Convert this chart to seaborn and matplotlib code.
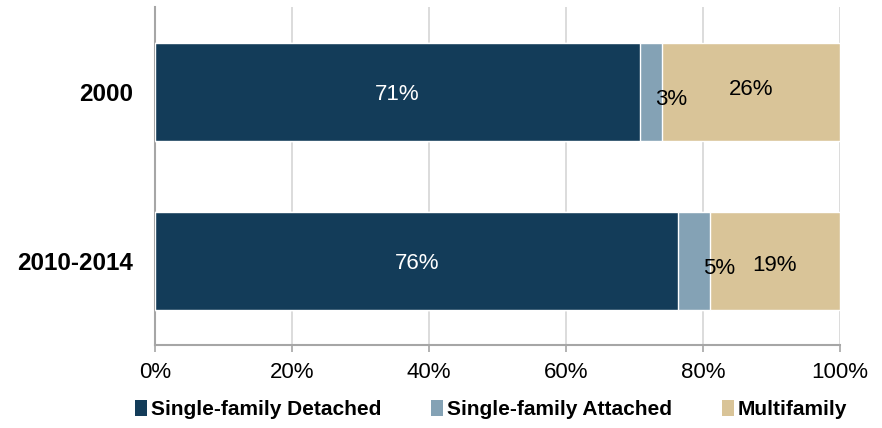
import numpy as np
import pandas as pd
import matplotlib
matplotlib.use('Agg')
import matplotlib.pyplot as plt
from matplotlib.patches import Patch
import seaborn as sns

# data (share of units, %)
periods = ['2000', '2010-2014']
detached = [70.8, 76.4]
attached = [3.2, 4.6]
multifamily = [26.0, 19.0]
series_names = ['Single-family Detached', 'Single-family Attached', 'Multifamily']
colors = ['#133C59', '#84A2B5', '#D9C498']
xticks = [0, 20, 40, 60, 80, 100]

sns.set_style('white')
plt.rcParams['font.family'] = ['Liberation Sans', 'DejaVu Sans']
plt.rcParams['text.color'] = 'black'

df = pd.DataFrame({'period': periods, 'detached': detached,
                   'attached': attached, 'multifamily': multifamily})
df['c1'] = df['detached']
df['c2'] = df['detached'] + df['attached']
df['c3'] = df['c2'] + df['multifamily']

fig = plt.figure(figsize=(8.82, 4.28), dpi=100)
ax = fig.add_axes([0.1757, 0.1939, 0.7767, 0.7897])

# stacked by overdrawing cumulative totals
sns.barplot(data=df, x='c3', y='period', color=colors[2], width=0.58, ax=ax, saturation=1, zorder=3)
sns.barplot(data=df, x='c2', y='period', color=colors[1], width=0.58, ax=ax, saturation=1, zorder=3)
sns.barplot(data=df, x='c1', y='period', color=colors[0], width=0.58, ax=ax, saturation=1, zorder=3)

ax.set_xlim(0, 100)
ax.set_ylim(1.5, -0.5)
ax.set_xticks(xticks)
ax.set_xticklabels([f'{t}%' for t in xticks], fontsize=16, color='black')
ax.set_xlabel('')
ax.set_ylabel('')
ax.set_yticks([0, 1])
ax.set_yticklabels(periods, fontsize=17.5, fontweight='bold', color='black')
ax.set_yticks([-0.5, 0.5, 1.5], minor=True)
ax.tick_params(axis='y', which='major', length=0, pad=16)
ax.tick_params(axis='y', which='minor', length=5, width=1.2, color='#A6A6A6')
ax.tick_params(axis='x', length=5, width=1.2, color='#A6A6A6', pad=7, bottom=True)
ax.xaxis.grid(True, color='#D9D9D9', linewidth=1.3, zorder=0)
ax.yaxis.grid(False)
ax.set_axisbelow(True)
sns.despine(ax=ax, top=True, right=True)
for s in ['left', 'bottom']:
    ax.spines[s].set_color('#A6A6A6')
    ax.spines[s].set_linewidth(1.5)

# data labels
for i, row in df.iterrows():
    ax.text(row['detached'] / 2, i + 0.02, f"{row['detached']:.0f}%", ha='center', va='center',
            color='white', fontsize=16, zorder=5)
    ax.annotate(f"{row['attached']:.0f}%", xy=(row['c2'], i + 0.05), xytext=(7, 0),
                textcoords='offset points', ha='center', va='center', fontsize=16,
                color='black', zorder=5)
    ax.text(row['c2'] + row['multifamily'] / 2, i + 0.03 - 0.04 * (1 - i), f"{row['multifamily']:.0f}%",
            ha='center', va='center', fontsize=16, color='black', zorder=5)

handles = [Patch(facecolor=c, edgecolor='none') for c in colors]
fig.legend(handles, series_names, loc='center', bbox_to_anchor=(0.557, 0.043), ncol=3,
           frameon=False, handlelength=0.55, handleheight=0.8, handletextpad=0.2,
           columnspacing=2.4, prop={'size': 15, 'weight': 'bold'})

fig.savefig('out.png', dpi=100)
